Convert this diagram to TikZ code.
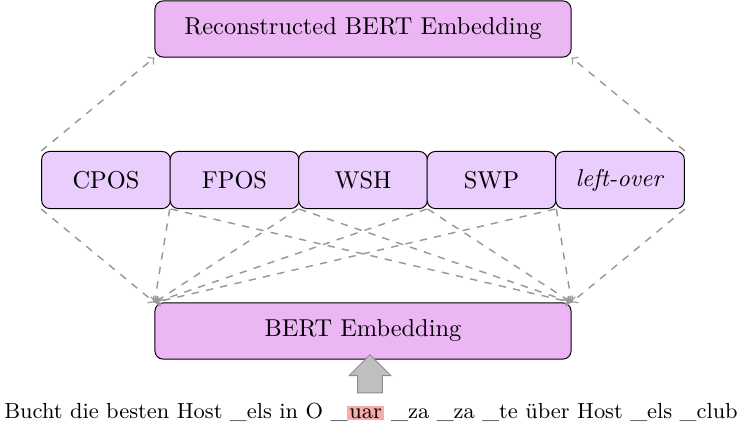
\documentclass[tikz,border=0pt]{standalone}
\usetikzlibrary{shapes.arrows}
\definecolor{featfill}{RGB}{233,206,253}
\definecolor{embfill}{RGB}{236,181,244}
\definecolor{tokhl}{RGB}{250,172,172}
\begin{document}
\begin{tikzpicture}[x=0.4098pt, y=-0.4098pt, every node/.style={font=\normalsize},
  embbox/.style={draw,rounded corners=3.3pt,fill=embfill,minimum width=170.5pt,minimum height=23pt,inner sep=0pt},
  featbox/.style={draw,rounded corners=3.3pt,fill=featfill,minimum width=52.7pt,minimum height=23.4pt,inner sep=0pt},
  probe/.style={->,dashed,semithick,gray!80}]
\useasboundingbox (0,0) rectangle (741,429);
\node[embbox] (recon) at (363,29) {Reconstructed BERT Embedding};
\node[featbox] (cpos) at (106,180) {CPOS};
\node[featbox] (fpos) at (234.5,180) {FPOS};
\node[featbox] (wsh) at (363,180) {WSH};
\node[featbox] (swp) at (491.5,180) {SWP};
\node[featbox] (left) at (620,180) {\textit{left-over}};
\node[embbox] (bert) at (363,331) {BERT Embedding};
% token sequence and input arrow
\node[font=\fontsize{8.95}{11}\selectfont] (sent) at (371,412) {Bucht die besten Host \_els in O \_{\setlength{\fboxsep}{0.8pt}\colorbox{tokhl}{uar}} \_za \_za \_te über Host \_els \_club};
\node[single arrow,rotate=90,draw=gray!90,fill=gray!50,minimum height=15.6pt,
  inner xsep=0pt,inner ysep=4.9pt,single arrow head extend=3.5pt] (inarr) at (370,380) {};
% probes down to the embedding
\foreach \f in {cpos,fpos,wsh,swp,left} {
  \draw[probe] (\f.south west) -- (bert.north west);
  \draw[probe] (\f.south east) -- (bert.north east);
}
\draw[probe] (cpos.north west) -- (recon.south west);
\draw[probe] (left.north east) -- (recon.south east);
\end{tikzpicture}
\end{document}
